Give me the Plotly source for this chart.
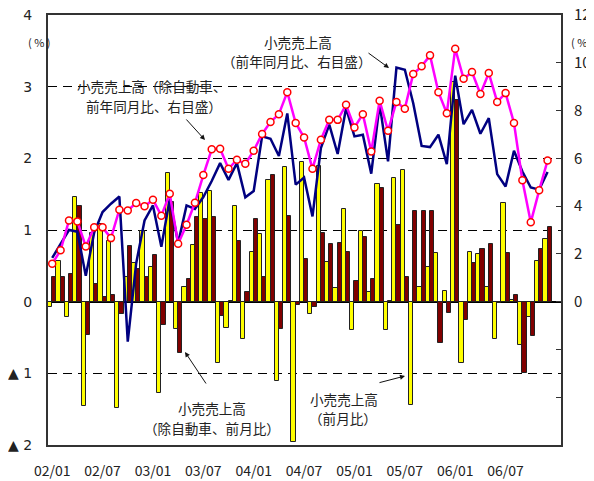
import plotly.graph_objects as go

# ---- data ----
months = [f"{y:02d}/{m:02d}" for y in range(2, 7) for m in range(1, 13)]
tick_labels = ["02/01", "02/07", "03/01", "03/07", "04/01", "04/07",
               "05/01", "05/07", "06/01", "06/07"]

# 小売売上高（前月比） left axis, %
retail_mom = [-0.07, 0.57, -0.22, 1.46, -1.45, 0.96, 1.08, 0.85, -1.48, 0.34,
              0.54, 0.99, 0.49, -1.27, 1.80, -0.38, 0.20, 0.79, 1.51, 1.55,
              -0.85, -0.37, 1.34, -0.52, 0.70, 0.94, 1.70, -1.11, 1.88, -1.96,
              1.95, -0.17, 1.90, 0.56, 0.19, 1.30, -0.40, 0.99, 0.13, 1.64,
              -0.40, 1.72, 1.84, -1.44, 0.21, 0.48, 0.68, 0.15, 3.06, -0.85,
              0.69, 0.66, 0.20, -0.52, 1.37, 0.02, -0.60, -0.22, 0.57, 0.88]

# 小売売上高（除自動車、前月比） left axis, %
exauto_mom = [0.35, 0.35, 0.39, 1.34, -0.47, 0.25, 0.06, 0.09, -0.17, 0.78,
              0.46, 0.34, 0.65, -0.33, 1.39, -0.71, 0.31, 1.18, 1.16, 1.18,
              -0.20, 0.01, 0.84, 0.14, 1.16, 0.35, 1.77, -0.38, 1.19, -0.05,
              0.60, -0.08, 0.96, 0.80, 0.82, 0.70, 0.29, 0.90, 0.32, 1.58,
              0.01, 1.07, 0.34, 1.26, 1.26, 1.26, -0.58, -0.16, 2.81, -0.25,
              0.54, 0.73, 0.80, -0.02, 0.68, 0.09, -0.99, -0.48, 0.74, 1.04]

# 小売売上高（前年同月比、右目盛） right axis, %
retail_yoy = [1.83, 2.40, 3.00, 2.93, 1.08, 2.89, 3.75, 4.10, 4.40, -1.67,
              1.60, 3.40, 4.03, 2.30, 4.30, 2.45, 4.03, 3.88, 4.38, 5.05,
              5.80, 5.10, 5.80, 4.37, 4.63, 6.92, 6.82, 6.10, 7.88, 4.90,
              5.20, 3.57, 6.43, 7.41, 6.18, 8.10, 6.92, 6.99, 5.36, 8.27,
              5.87, 9.80, 9.71, 8.31, 6.52, 6.47, 6.99, 5.76, 9.46, 7.43,
              8.03, 7.03, 7.68, 5.34, 4.82, 6.32, 5.45, 4.78, 4.69, 5.43]

# 小売売上高（除自動車、前年同月比、右目盛） right axis, %
exauto_yoy = [1.59, 2.15, 3.40, 3.36, 2.31, 3.11, 3.11, 2.66, 3.85, 3.82,
              4.13, 3.99, 4.27, 3.60, 4.52, 2.42, 3.22, 4.14, 5.30, 6.38,
              6.40, 5.56, 5.94, 5.77, 6.32, 7.02, 7.52, 7.85, 8.77, 7.48,
              6.87, 5.56, 6.78, 7.61, 7.61, 8.24, 7.29, 7.85, 6.29, 8.41,
              7.15, 8.36, 8.08, 9.53, 9.85, 10.31, 8.77, 7.89, 10.59, 9.33,
              9.61, 8.69, 9.57, 8.36, 8.73, 7.48, 5.08, 3.32, 4.66, 5.91]

left_ticks = [-2, -1, 0, 1, 2, 3, 4]
left_ticktext = ["▲ 2", "▲ 1", "0", "1", "2", "3", "4"]
right_ticks = [-4, -2, 0, 2, 4, 6, 8, 10, 12]
right_ticktext = ["", "", "0", "2", "4", "6", "8", "10", "12"]

x = list(range(len(months)))
tick_pos = [months.index(t) for t in tick_labels]

FONT = "Noto Sans CJK JP"
TXT = "#222222"

fig = go.Figure()
fig.add_trace(go.Bar(x=x, y=retail_mom, name="小売売上高（前月比）",
                     marker=dict(color="#FFFF00", line=dict(color="#222222", width=1)),
                     offsetgroup="a", yaxis="y"))
fig.add_trace(go.Bar(x=x, y=exauto_mom, name="小売売上高（除自動車、前月比）",
                     marker=dict(color="#800000", line=dict(color="#222222", width=1)),
                     offsetgroup="b", yaxis="y"))
fig.add_trace(go.Scatter(x=x, y=retail_yoy, name="小売売上高（前年同月比）",
                         mode="lines", line=dict(color="#000080", width=2.5),
                         yaxis="y2"))
fig.add_trace(go.Scatter(x=x, y=exauto_yoy, name="小売売上高（除自動車、前年同月比）",
                         mode="lines+markers", line=dict(color="#FF00FF", width=2.5),
                         marker=dict(symbol="circle", size=7, color="white",
                                     line=dict(color="#FF0000", width=1.5)),
                         yaxis="y2"))

# page has an 8px body margin; compensate so the plot area lands at 48..561 x 15..445
OFF = 8
W, H = 594, 481
PL, PR, PT, PB = 48, 561, 15, 445
L, T = PL - OFF, PT - OFF
R = W - (PR - OFF)
B = H - (PB - OFF)
PW, PH = PR - PL, PB - PT


def px(xp):
    return (xp - PL) / PW


def py(yp):
    return (PB - yp) / PH


annotations = []


def text(s, cx, cy):
    annotations.append(dict(text=s, x=px(cx), y=py(cy), xref="paper", yref="paper",
                            showarrow=False, xanchor="center", yanchor="middle",
                            font=dict(family=FONT, size=13.6, color=TXT)))


def arrow(x0, y0, x1, y1):
    annotations.append(dict(text="", x=px(x1), y=py(y1), xref="paper", yref="paper",
                            ax=x0 - x1, ay=y0 - y1, axref="pixel", ayref="pixel",
                            showarrow=True, arrowhead=2, arrowsize=1, arrowwidth=1,
                            arrowcolor="#111111"))


text("小売売上高（除自動車、", 152, 86)
text("前年同月比、右目盛）", 154, 106)
arrow(185, 118, 205, 140)

text("小売売上高", 298, 42)
text("（前年同月比、右目盛）", 297, 61)
arrow(367, 52, 389, 68)

text("小売売上高", 212, 408)
text("（除自動車、前月比）", 212, 428)
arrow(207, 385, 185, 352)

text("小売売上高", 344, 399)
text("（前月比）", 343, 418)
arrow(378, 383, 405, 376)

annotations.append(dict(text="( % )", x=px(39), y=py(42), xref="paper", yref="paper",
                        showarrow=False, xanchor="center", yanchor="middle",
                        font=dict(family=FONT, size=11, color=TXT)))
annotations.append(dict(text="( % )", x=px(582), y=py(42), xref="paper", yref="paper",
                        showarrow=False, xanchor="center", yanchor="middle",
                        font=dict(family=FONT, size=11, color=TXT)))

fig.update_layout(
    width=W, height=H,
    margin=dict(l=L, r=R, t=T, b=B, pad=0, autoexpand=False),
    paper_bgcolor="white", plot_bgcolor="white",
    showlegend=False,
    barmode="group", bargap=0, bargroupgap=0,
    font=dict(family=FONT, color=TXT, size=14),
    xaxis=dict(range=[-0.5, 60.6], tickmode="array", tickvals=tick_pos,
               ticktext=tick_labels, showgrid=False, zeroline=False,
               showline=True, linecolor="#333333", linewidth=2, mirror=True,
               ticks="", ticklabelstandoff=12, automargin=False,
               ticklabeloverflow="allow",
               tickfont=dict(family=FONT, size=14, color=TXT)),
    yaxis=dict(range=[-2, 4], tickmode="array", tickvals=left_ticks,
               ticktext=left_ticktext, showgrid=True, gridcolor="#000000",
               gridwidth=1, griddash="9px,6px", zeroline=True,
               zerolinecolor="#000000", zerolinewidth=1.5,
               showline=True, linecolor="#333333", linewidth=2,
               ticks="", ticklabelstandoff=11, automargin=False,
               ticklabeloverflow="allow",
               tickfont=dict(family="DejaVu Sans", size=14, color=TXT)),
    yaxis2=dict(range=[-6, 12], overlaying="y", side="right", tickmode="array",
                tickvals=right_ticks, ticktext=right_ticktext, showgrid=False,
                zeroline=False, showline=True, linecolor="#333333", linewidth=2,
                ticks="inside", ticklen=5, tickcolor="#333333",
                ticklabelstandoff=8, automargin=False,
                ticklabeloverflow="allow",
                tickfont=dict(family=FONT, size=15, color=TXT)),
    annotations=annotations,
)

fig.write_html("out.html")
